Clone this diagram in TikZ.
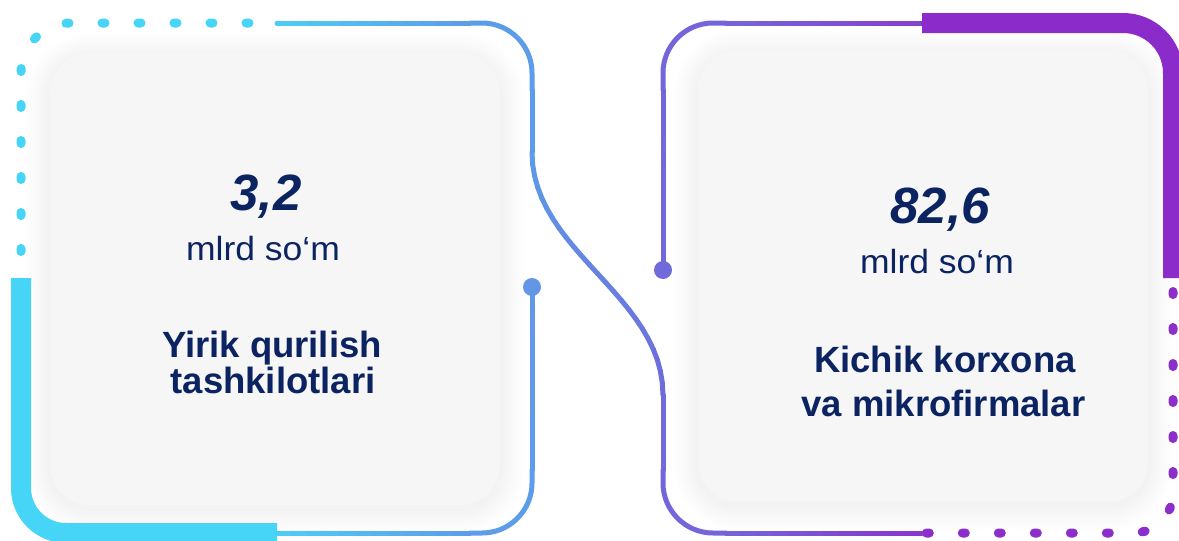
\documentclass[tikz,border=0pt]{standalone}
\usepackage{fontspec}
\setmainfont{Liberation Sans}
\definecolor{navy}{HTML}{0B2461}
\definecolor{cyanL}{HTML}{46D5F6}
\definecolor{cardbg}{HTML}{F6F6F7}
\definecolor{bA}{HTML}{4DCEF4}
\definecolor{bB}{HTML}{5D9CE8}
\definecolor{bC}{HTML}{6397E6}
\definecolor{pA}{HTML}{706ADB}
\definecolor{pB}{HTML}{7465DA}
\definecolor{pC}{HTML}{8A34CC}
\definecolor{pD}{HTML}{8540CE}
\definecolor{purpleT}{HTML}{8A2BCA}
\definecolor{purpleD}{HTML}{8B2ECB}
\tikzset{
 thinln/.style={line width=5pt, line cap=round},
 thickln/.style={line width=20pt, line cap=butt},
 dotln/.style={line width=9pt, line cap=round, dash pattern=on 3pt off 33pt},
 card/.style={fill=cardbg, rounded corners=40pt, inner sep=0pt, draw=none},
 num/.style={text=navy, font=\fontsize{51}{51}\selectfont\bfseries\itshape, inner sep=0pt, anchor=base},
 unit/.style={text=navy, font=\fontsize{33.5}{33.5}\selectfont, inner sep=0pt, anchor=base},
 ttl/.style={text=navy, font=\fontsize{36.5}{36.5}\selectfont\bfseries, inner sep=0pt, anchor=base},
}
\newcommand\gradline[6]{%
  \foreach \k in {0,...,11}{%
    \pgfmathsetmacro\xa{#1+(#3-#1)*\k/12}%
    \pgfmathsetmacro\ya{#2+(#4-#2)*\k/12}%
    \pgfmathsetmacro\xb{#1+(#3-#1)*(\k+1)/12}%
    \pgfmathsetmacro\yb{#2+(#4-#2)*(\k+1)/12}%
    \pgfmathtruncatemacro\pc{(\k+0.5)*100/12}%
    \draw[thinln, #6!\pc!#5] (\xa,\ya) -- (\xb,\yb);
  }}
\newcommand\cardshadow[4]{%
  \foreach \i in {1,...,12}{%
    \pgfmathsetmacro\rr{40+\i*2}%
    \fill[black, opacity=0.0055, rounded corners=\rr pt] (#1-\i*2, #2-\i*2+4) rectangle (#3+\i*2, #4+\i*2+4);
  }}
\begin{document}
\begin{tikzpicture}[x=1pt, y=-1pt]
\useasboundingbox (0,0) rectangle (1179,541);
\fill[white] (0,0) rectangle (1179,541);
% card shadows and cards
\cardshadow{50}{53}{500}{505}
\cardshadow{698}{50}{1148}{502}
\node[card, minimum width=450pt, minimum height=452pt] (cardL) at (275,279) {};
\node[card, minimum width=450pt, minimum height=452pt] (cardR) at (923,276) {};
% left cyan thick and dotted
\draw[thickln, cyanL, rounded corners=45pt] (277,533) -- (21,533) -- (21,278);
\draw[dotln, cyanL, dash phase=9.5pt, rounded corners=50pt] (21,278) -- (21,23) -- (277,23);
% right purple thick and dotted
\draw[dotln, purpleD, dash phase=22.5pt, rounded corners=40pt] (1173,278) -- (1173,533) -- (922,533);
% thin lines: top of left shape, S-curve, bottom of right shape
\gradline{277}{23}{470}{23}{bA}{bB}
\draw[thinln, bB, rounded corners=50pt] (470,23) -- (532,23) -- (532,90);
\draw[thinln, bB] (532,90) -- (532,152);
\foreach \k in {0,...,23}{%
  \pgfmathsetmacro\ta{\k/24}%
  \pgfmathsetmacro\tb{(\k+1)/24}%
  \pgfmathsetmacro\xa{(1-\ta)^3*532+3*(1-\ta)^2*\ta*532+3*(1-\ta)*\ta^2*663+\ta^3*663}%
  \pgfmathsetmacro\ya{(1-\ta)^3*152+3*(1-\ta)^2*\ta*252+3*(1-\ta)*\ta^2*295+\ta^3*395}%
  \pgfmathsetmacro\xb{(1-\tb)^3*532+3*(1-\tb)^2*\tb*532+3*(1-\tb)*\tb^2*663+\tb^3*663}%
  \pgfmathsetmacro\yb{(1-\tb)^3*152+3*(1-\tb)^2*\tb*252+3*(1-\tb)*\tb^2*295+\tb^3*395}%
  \pgfmathtruncatemacro\pc{(\k+0.5)*100/24}%
  \draw[thinln, pA!\pc!bB] (\xa,\ya) -- (\xb,\yb);
}
\draw[thinln, pA] (663,395) -- (663,470);
\draw[thinln, pB, rounded corners=50pt] (663,470) -- (663,533) -- (726,533);
\gradline{726}{533}{922}{533}{pB}{pC}
% bottom of left shape to left dot
\gradline{277}{533}{470}{533}{bA}{bB}
\draw[thinln, bB, rounded corners=50pt] (470,533) -- (532,533) -- (532,470);
\gradline{532}{470}{532}{287}{bB}{bC}
\fill[bC] (532,287) circle[radius=9pt];
% right shape top from right dot
\gradline{663}{270}{663}{90}{pA}{pB}
\draw[thinln, pB, rounded corners=50pt] (663,90) -- (663,23) -- (726,23);
\gradline{726}{23}{922}{23}{pB}{pD}
\fill[pA] (663,270) circle[radius=9pt];
\draw[thickln, purpleT, rounded corners=50pt] (922,23) -- (1173,23) -- (1173,278);
% texts left
\node[num] (numL) at (266,210) {3,2};
\node[unit] (unitL) at (263,260) {\scalebox{1.06}[1]{mlrd so‘m}};
\node[ttl] (ttlLa) at (272,357) {Yirik qurilish};
\node[ttl] (ttlLb) at (273,393) {tashkilotlari};
% texts right
\node[num] (numR) at (940,223) {82,6};
\node[unit] (unitR) at (937,273) {\scalebox{1.06}[1]{mlrd so‘m}};
\node[ttl] (ttlRa) at (945,372) {Kichik korxona};
\node[ttl] (ttlRb) at (943.5,416) {va mikrofirmalar};
\end{tikzpicture}
\end{document}
